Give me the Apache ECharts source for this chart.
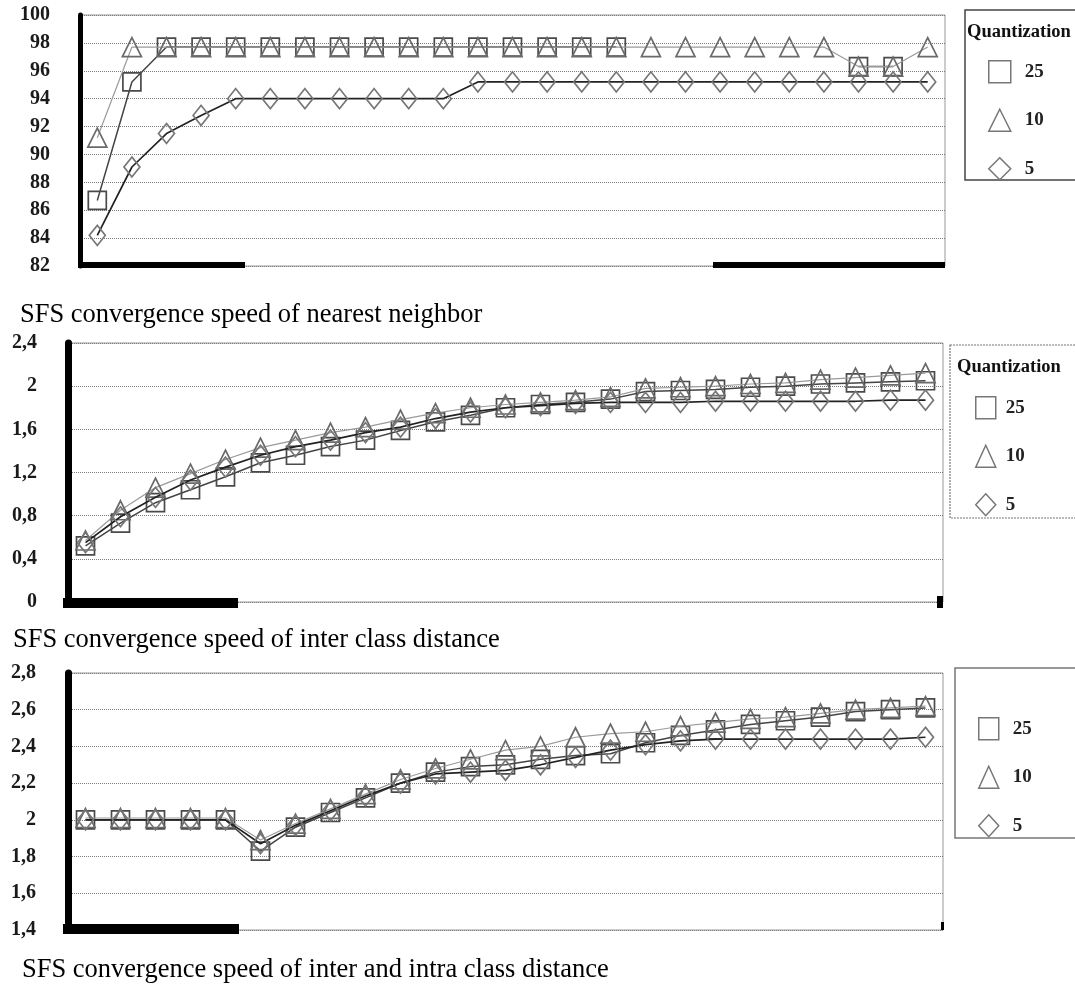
<!DOCTYPE html>
<html>
<head>
<meta charset="utf-8">
<script src="https://cdn.jsdelivr.net/npm/echarts@6/dist/echarts.min.js"></script>
<style>
html,body{margin:0;padding:0;background:#fff;}
#c{width:1075px;height:985px;}
</style>
</head>
<body>
<div id="c"></div>
<script>
// ---------- data ----------
const categories = ['1','2','3','4','5','6','7','8','9','10','11','12','13','14','15','16','17','18','19','20','21','22','23','24','25'];
const seriesNames = ['25', '10', '5'];

const chartTitles = [
  'SFS convergence speed of nearest neighbor',
  'SFS convergence speed of inter class distance',
  'SFS convergence speed of inter and intra class distance'
];

// chart 1 : nearest neighbor (%)
const yTicks1 = [82, 84, 86, 88, 90, 92, 94, 96, 98, 100];
const nn25 = [86.7, 95.2, 97.7, 97.7, 97.7, 97.7, 97.7, 97.7, 97.7, 97.7, 97.7, 97.7, 97.7, 97.7, 97.7, 97.7, null, null, null, null, null, null, 96.3, 96.3, null];
const nn10 = [91.2, 97.7, 97.7, 97.7, 97.7, 97.7, 97.7, 97.7, 97.7, 97.7, 97.7, 97.7, 97.7, 97.7, 97.7, 97.7, 97.7, 97.7, 97.7, 97.7, 97.7, 97.7, 96.3, 96.3, 97.7];
const nn5  = [84.2, 89.1, 91.5, 92.8, 94.0, 94.0, 94.0, 94.0, 94.0, 94.0, 94.0, 95.2, 95.2, 95.2, 95.2, 95.2, 95.2, 95.2, 95.2, 95.2, 95.2, 95.2, 95.2, 95.2, 95.2];

// chart 2 : inter class distance
const yTicks2 = [0, 0.4, 0.8, 1.2, 1.6, 2.0, 2.4];
const ic25 = [0.52, 0.73, 0.92, 1.04, 1.16, 1.29, 1.36, 1.44, 1.50, 1.59, 1.67, 1.73, 1.80, 1.83, 1.85, 1.88, 1.95, 1.96, 1.97, 1.99, 2.00, 2.02, 2.03, 2.04, 2.05];
const ic10 = [0.57, 0.85, 1.06, 1.19, 1.32, 1.43, 1.50, 1.57, 1.62, 1.69, 1.75, 1.80, 1.83, 1.85, 1.87, 1.90, 1.98, 1.99, 2.00, 2.02, 2.03, 2.06, 2.08, 2.10, 2.12];
const ic5  = [0.55, 0.79, 0.97, 1.13, 1.25, 1.36, 1.44, 1.50, 1.57, 1.62, 1.70, 1.76, 1.80, 1.82, 1.84, 1.85, 1.85, 1.85, 1.86, 1.86, 1.86, 1.86, 1.86, 1.87, 1.87];

// chart 3 : inter and intra class distance
const yTicks3 = [1.4, 1.6, 1.8, 2.0, 2.2, 2.4, 2.6, 2.8];
const ii25 = [2.00, 2.00, 2.00, 2.00, 2.00, 1.83, 1.96, 2.04, 2.12, 2.20, 2.26, 2.29, 2.30, 2.33, 2.35, 2.36, 2.42, 2.46, 2.49, 2.52, 2.54, 2.56, 2.59, 2.60, 2.61];
const ii10 = [2.01, 2.01, 2.01, 2.01, 2.01, 1.89, 1.98, 2.06, 2.14, 2.22, 2.28, 2.33, 2.38, 2.40, 2.45, 2.47, 2.48, 2.51, 2.53, 2.55, 2.56, 2.58, 2.60, 2.61, 2.62];
const ii5  = [2.00, 2.00, 2.00, 2.00, 2.00, 1.87, 1.97, 2.05, 2.13, 2.20, 2.25, 2.26, 2.27, 2.30, 2.34, 2.38, 2.41, 2.43, 2.44, 2.44, 2.44, 2.44, 2.44, 2.44, 2.45];

const chartData = [[nn25, nn10, nn5], [ic25, ic10, ic5], [ii25, ii10, ii5]];
const chartTicks = [yTicks1, yTicks2, yTicks3];

// ---------- layout / style ----------
const SERIF = '"Liberation Serif", "Times New Roman", serif';
const grids = [
  {left: 80, top: 15, width: 865, height: 251},
  {left: 68, top: 343, width: 875, height: 259},
  {left: 68, top: 673, width: 875, height: 257}
];
const axisWidths = [5, 7, 7];
const labelMargins = [30, 31, 32];
const symbolStyle = {
  '25': {symbol: 'rect', size: 18, line: '#444', lw: 1.5, border: '#4a4a4a'},
  '10': {symbol: 'triangle', size: 19, line: '#9a9a9a', lw: 1.2, border: '#6a6a6a'},
  '5':  {symbol: 'diamond', size: [16, 20], line: '#222', lw: 1.7, border: '#777'}
};
const legendIcons = {'25': 'rect', '10': 'triangle', '5': 'diamond'};

const chart = echarts.init(document.getElementById('c'), null, {renderer: 'canvas'});

const xAxes = grids.map((g, i) => ({
  type: 'category', gridIndex: i, data: categories, boundaryGap: true,
  axisLine: {show: false}, axisTick: {show: false}, axisLabel: {show: false}, splitLine: {show: false}
}));

const yAxes = chartTicks.map((t, i) => ({
  type: 'value', gridIndex: i,
  min: t[0], max: t[t.length - 1], interval: Math.round((t[1] - t[0]) * 10) / 10,
  axisLine: {show: true, lineStyle: {color: '#000', width: axisWidths[i]}},
  axisTick: {show: false},
  axisLabel: {
    margin: labelMargins[i], fontFamily: SERIF, fontWeight: 'bold', fontSize: 20, color: '#1a1a1a',
    formatter: v => String(Math.round(v * 10) / 10).replace('.', ',')
  },
  splitLine: {show: true, lineStyle: {type: 'dotted', color: '#7a7a7a', width: 1}}
}));

const series = [];
chartData.forEach((set, ci) => {
  set.forEach((vals, si) => {
    const name = seriesNames[si];
    const st = symbolStyle[name];
    series.push({
      type: 'line', name: name, xAxisIndex: ci, yAxisIndex: ci, data: vals,
      symbol: st.symbol, symbolSize: st.size, showAllSymbol: true,
      lineStyle: {color: st.line, width: st.lw},
      itemStyle: {color: 'rgba(255,255,255,0)', borderColor: st.border, borderWidth: 1.7},
      emphasis: {disabled: true}, z: 3 + si
    });
  });
});

function legendData() {
  return seriesNames.map(n => ({
    name: n, icon: legendIcons[n],
    itemStyle: {color: '#fff', borderColor: '#777', borderWidth: 1.5}
  }));
}
const legendBase = {
  orient: 'vertical', selectedMode: false, itemGap: 25, itemHeight: 22,
  textStyle: {fontFamily: SERIF, fontWeight: 'bold', fontSize: 19, color: '#222'}
};
const legends = [
  Object.assign({}, legendBase, {left: 983, top: 55, itemWidth: 22, data: legendData(),
    textStyle: Object.assign({}, legendBase.textStyle, {padding: [0, 0, 0, 9]})}),
  Object.assign({}, legendBase, {left: 970, top: 391, itemWidth: 20, data: legendData(),
    textStyle: Object.assign({}, legendBase.textStyle, {padding: [0, 0, 0, 5]})}),
  Object.assign({}, legendBase, {left: 973, top: 712, itemWidth: 20, data: legendData(),
    textStyle: Object.assign({}, legendBase.textStyle, {padding: [0, 0, 0, 9]})})
];

const graphics = [
  // legend frames
  {type: 'rect', shape: {x: 965, y: 10, width: 130, height: 170}, style: {fill: 'none', stroke: '#444', lineWidth: 1.5}, z: 1},
  {type: 'rect', shape: {x: 950, y: 345, width: 140, height: 173}, style: {fill: 'none', stroke: '#777', lineWidth: 1.2, lineDash: [2, 1]}, z: 1},
  {type: 'rect', shape: {x: 955, y: 668, width: 135, height: 170}, style: {fill: 'none', stroke: '#777', lineWidth: 1.5}, z: 1},
  // legend headings
  {type: 'text', left: 967, top: 23, style: {text: 'Quantization', font: 'bold 18.5px ' + SERIF, fill: '#111'}, z: 5},
  {type: 'text', left: 957, top: 358, style: {text: 'Quantization', font: 'bold 18.5px ' + SERIF, fill: '#111'}, z: 5},
  // captions
  {type: 'text', left: 20, top: 302, style: {text: chartTitles[0], font: '26.5px ' + SERIF, fill: '#000'}, z: 5},
  {type: 'text', left: 13, top: 627, style: {text: chartTitles[1], font: '26.5px ' + SERIF, fill: '#000'}, z: 5},
  {type: 'text', left: 22, top: 957, style: {text: chartTitles[2], font: '26.5px ' + SERIF, fill: '#000'}, z: 5},
  // heavy scanned axis segments at the bottom of each plot
  {type: 'rect', shape: {x: 78, y: 262, width: 167, height: 6}, style: {fill: '#000'}, z: 6},
  {type: 'rect', shape: {x: 713, y: 262, width: 232, height: 6}, style: {fill: '#000'}, z: 6},
  {type: 'rect', shape: {x: 63, y: 598, width: 175, height: 10}, style: {fill: '#000'}, z: 6},
  {type: 'rect', shape: {x: 937, y: 596, width: 6, height: 12}, style: {fill: '#000'}, z: 6},
  {type: 'rect', shape: {x: 63, y: 924, width: 176, height: 10}, style: {fill: '#000'}, z: 6},
  {type: 'rect', shape: {x: 941, y: 922, width: 3, height: 8}, style: {fill: '#000'}, z: 6}
];

chart.setOption({
  animation: false,
  backgroundColor: '#fff',
  grid: grids.map(g => Object.assign({show: true, borderColor: '#999', borderWidth: 1, backgroundColor: 'transparent'}, g)),
  xAxis: xAxes,
  yAxis: yAxes,
  legend: legends,
  series: series,
  graphic: graphics
});
</script>
</body>
</html>
